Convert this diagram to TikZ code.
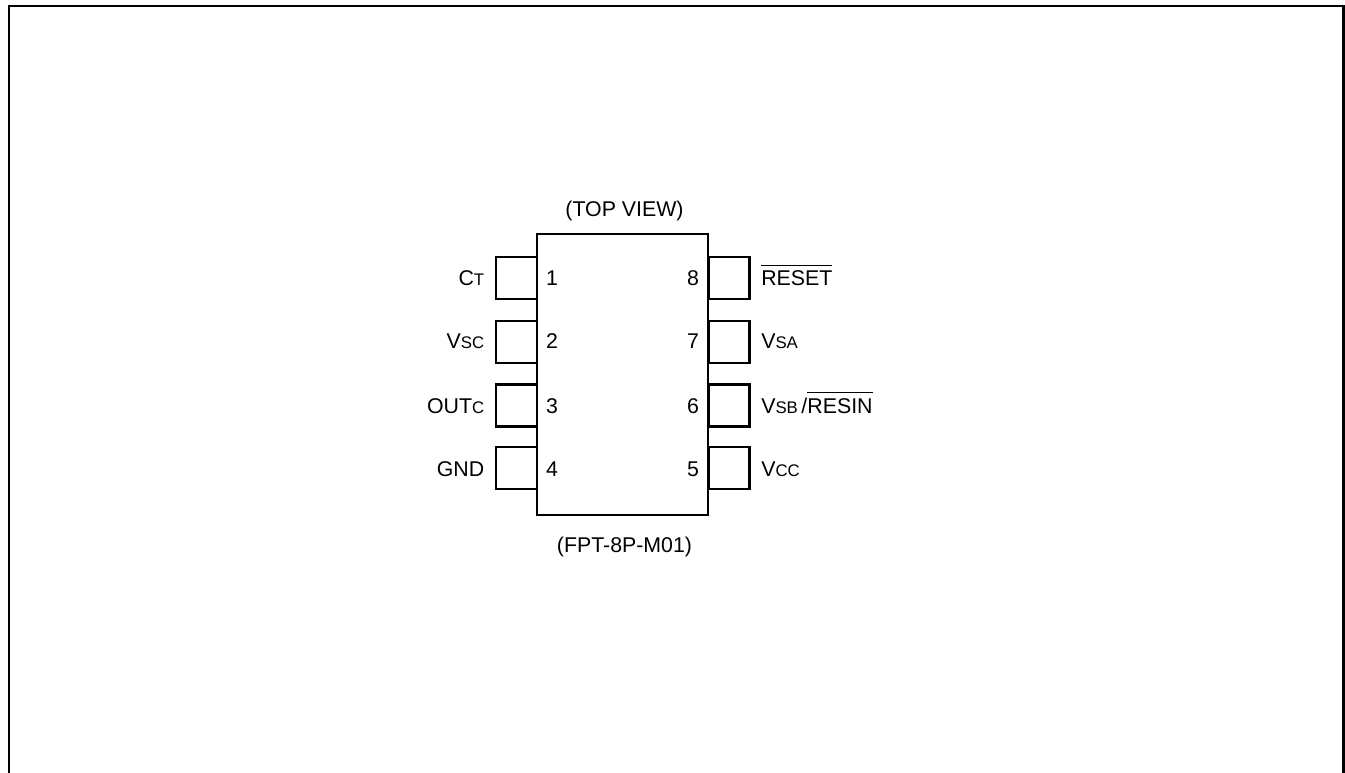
\documentclass[tikz,border=0pt]{standalone}
\usepackage{fontspec}
\setmainfont{Liberation Sans}
\usetikzlibrary{positioning}
\newcommand{\Small}[1]{{\fontsize{12.6}{14}\selectfont #1}}
\newcommand{\Bar}[1]{$\overline{\mbox{\rule{0pt}{14.4pt}#1}}$}

\begin{document}
\begin{tikzpicture}[x=0.75pt, y=-0.75pt, font=\fontsize{16}{19}\selectfont]
		\tikzstyle{Package}	= [rectangle, draw, line width=1.7pt, minimum width=128.25pt, minimum height=210.75pt, inner sep=0pt]
		\tikzstyle{Pin}		= [rectangle, draw, line width=2pt, minimum width=30.75pt, minimum height=31.5pt, inner sep=0pt]
		\tikzstyle{Num}		= [inner sep=0pt, anchor=base]
		\tikzstyle{LabelL}	= [inner sep=0pt, anchor=base east]
		\tikzstyle{LabelR}	= [inner sep=0pt, anchor=base west]
		\tikzstyle{Caption}	= [inner sep=0pt, anchor=base]
		\tikzstyle{Frame}	= [line width=1.7pt]
		
		\useasboundingbox (0, 0) rectangle (1345, 773);
		
		\coordinate (f1) at (9, 773);
		\coordinate (f2) at (9, 6);
		\coordinate (f3) at (1343.5, 6);
		\coordinate (f4) at (1343.5, 773);
		\draw [Frame] (f1) -- (f2) -- (f3) -- (f4);
		
		\node (body) at (622.5, 374.5) [Package] {};
		
		\node (p1) at (516.5, 278) [Pin] {};
		\node (p2) at (516.5, 342) [Pin] {};
		\node (p3) at (516.5, 405.5) [Pin] {};
		\node (p4) at (516.5, 468) [Pin] {};
		\node (p8) at (729, 278) [Pin] {};
		\node (p7) at (729, 342) [Pin] {};
		\node (p6) at (729, 405.5) [Pin] {};
		\node (p5) at (729, 468) [Pin] {};
		
		\node (n1) at (552, 286) [Num] {1};
		\node (n2) at (552, 349) [Num] {2};
		\node (n3) at (552, 413) [Num] {3};
		\node (n4) at (552, 476) [Num] {4};
		\node (n8) at (693, 286) [Num] {8};
		\node (n7) at (693, 349) [Num] {7};
		\node (n6) at (693, 413) [Num] {6};
		\node (n5) at (693, 476) [Num] {5};
		
		\node (l1) at (484.5, 286) [LabelL] {C\Small{T}};
		\node (l2) at (484.5, 349) [LabelL] {V\Small{SC}};
		\node (l3) at (484.5, 413) [LabelL] {OUT\Small{C}};
		\node (l4) at (484.5, 476) [LabelL] {GND};
		\node (l8) at (761, 286) [LabelR] {\Bar{RESET}};
		\node (l7) at (761, 349) [LabelR] {V\Small{SA}};
		\node (l6) at (761, 413) [LabelR] {V\Small{SB}\,/\Bar{RESIN}};
		\node (l5) at (761, 476) [LabelR] {V\Small{CC}};
		
		\node (top) at (624.5, 217) [Caption] {(TOP VIEW)};
		\node (pkg) at (624.5, 552) [Caption] {(FPT-8P-M01)};
	\end{tikzpicture}
\end{document}
